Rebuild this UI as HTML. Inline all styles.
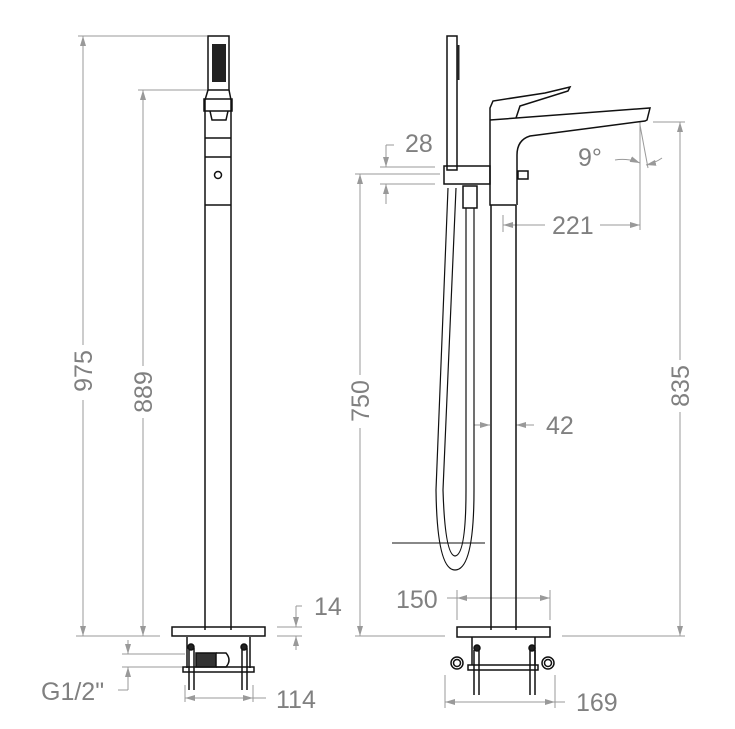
<!DOCTYPE html>
<html><head><meta charset="utf-8"><style>
html,body{margin:0;padding:0;background:#fff;}
svg{display:block;}
text{font-family:"Liberation Sans",sans-serif;font-size:25px;fill:#808080;}
</style></head><body>
<svg width="735" height="729" viewBox="0 0 735 729" xmlns="http://www.w3.org/2000/svg">
<defs>
<marker id="a" viewBox="0 0 10 6" refX="10" refY="3" markerWidth="10" markerHeight="6" orient="auto-start-reverse" markerUnits="userSpaceOnUse"><path d="M0,0 L10,3 L0,6 Z" fill="#999"/></marker>
</defs>
<g stroke="#999" stroke-width="1" fill="none">
<line x1="78" y1="36" x2="207" y2="36"/>
<line x1="138" y1="90" x2="207" y2="90"/>
<line x1="83" y1="36" x2="83" y2="345" marker-start="url(#a)"/>
<line x1="83" y1="400" x2="83" y2="636" marker-end="url(#a)"/>
<line x1="143" y1="90" x2="143" y2="366" marker-start="url(#a)"/>
<line x1="143" y1="418" x2="143" y2="636" marker-end="url(#a)"/>
<line x1="76" y1="636" x2="160" y2="636"/>
<line x1="122" y1="654" x2="185" y2="654"/>
<line x1="122" y1="667" x2="185" y2="667"/>
<line x1="128" y1="640" x2="128" y2="654" marker-end="url(#a)"/>
<line x1="128" y1="690" x2="128" y2="667" marker-end="url(#a)"/>
<line x1="118" y1="690" x2="128" y2="690"/>
<line x1="277" y1="627" x2="302" y2="627"/>
<line x1="277" y1="636" x2="302" y2="636"/>
<line x1="296" y1="606" x2="296" y2="627" marker-end="url(#a)"/>
<line x1="296" y1="650" x2="296" y2="636" marker-end="url(#a)"/>
<line x1="296" y1="606" x2="302" y2="606"/>
<line x1="185" y1="685" x2="185" y2="702"/>
<line x1="253" y1="685" x2="253" y2="702"/>
<line x1="185" y1="698" x2="253" y2="698" marker-start="url(#a)" marker-end="url(#a)"/>
<line x1="253" y1="698" x2="266" y2="698"/>
<line x1="380" y1="167" x2="435" y2="167"/>
<line x1="355" y1="174" x2="440" y2="174"/>
<line x1="380" y1="184" x2="435" y2="184"/>
<line x1="386" y1="145" x2="386" y2="167" marker-end="url(#a)"/>
<line x1="386" y1="204" x2="386" y2="184" marker-end="url(#a)"/>
<line x1="386" y1="145" x2="394" y2="145"/>
<line x1="360" y1="174" x2="360" y2="375" marker-start="url(#a)"/>
<line x1="360" y1="428" x2="360" y2="636" marker-end="url(#a)"/>
<line x1="355" y1="636" x2="445" y2="636"/>
<line x1="562" y1="636" x2="685" y2="636"/>
<line x1="653" y1="122" x2="685" y2="122"/>
<line x1="680" y1="122" x2="680" y2="360" marker-start="url(#a)"/>
<line x1="680" y1="412" x2="680" y2="636" marker-end="url(#a)"/>
<line x1="640" y1="122" x2="640" y2="230"/>
<line x1="503" y1="215" x2="503" y2="232"/>
<line x1="503" y1="225" x2="545" y2="225" marker-start="url(#a)"/>
<line x1="600" y1="225" x2="640" y2="225" marker-end="url(#a)"/>
<line x1="640" y1="125" x2="648" y2="168"/>
<path d="M615,160 Q628,158 640,163" marker-end="url(#a)"/>
<path d="M662,158 Q655,163 646,165" marker-end="url(#a)"/>
<line x1="474" y1="425" x2="490" y2="425" marker-end="url(#a)"/>
<line x1="534" y1="425" x2="516" y2="425" marker-end="url(#a)"/>
<line x1="457" y1="590" x2="457" y2="620"/>
<line x1="550" y1="590" x2="550" y2="620"/>
<line x1="447" y1="598" x2="550" y2="598"/>
<line x1="457" y1="598" x2="550" y2="598" marker-start="url(#a)" marker-end="url(#a)"/>
<line x1="445" y1="675" x2="445" y2="708"/>
<line x1="555" y1="675" x2="555" y2="708"/>
<line x1="445" y1="702" x2="555" y2="702" marker-start="url(#a)" marker-end="url(#a)"/>
<line x1="555" y1="702" x2="565" y2="702"/>
</g>
<g fill="none" stroke="#111" stroke-width="1.5">
<rect x="208" y="36" width="21" height="54"/>
<rect x="212" y="44" width="14" height="38" fill="#222" stroke="none"/>
<path d="M208,90 L205,100 L205,630 M229,90 L231,100 L231,630"/>
<rect x="204" y="99" width="28" height="12"/>
<path d="M210,111 L212,120 L226,120 L228,111"/>
<line x1="205" y1="138" x2="231" y2="138"/>
<line x1="205" y1="157" x2="231" y2="157"/>
<line x1="205" y1="205" x2="231" y2="205"/>
<circle cx="218" cy="175" r="3.5"/>
<rect x="172" y="627" width="93" height="9"/>
<path d="M187,637 L187,668 M250,637 L250,668"/>
<rect x="183" y="667" width="71" height="5"/>
<rect x="196" y="653" width="20" height="14" fill="#333"/>
<path d="M216,653 L226,653 Q232,660 226,667 L216,667"/>
<path d="M189,648 L189,690 M194,648 L194,690 M242,648 L242,690 M247,648 L247,690"/>
<circle cx="191" cy="647" r="3" fill="#222"/>
<circle cx="244" cy="647" r="3" fill="#222"/>
<rect x="447" y="36" width="10" height="134"/>
<rect x="457" y="45" width="2.5" height="35" fill="#222" stroke="none"/>
<rect x="444" y="166" width="46" height="18"/>
<rect x="463" y="186" width="14" height="22"/>
<path d="M448,188 L436,490 Q437,570 455,570 Q474,570 474,490 L474,208" stroke-width="1.2"/>
<path d="M456,188 L443,490 Q445,555 455,556 Q466,555 466,490 L466,208" stroke-width="1.2"/>
<path d="M490,120 L490,205 L516,205 M491,205 L491,630 M516,205 L516,630"/>
<path d="M490,120 L650,108 L647,120 L645,121 L530,136 Q517,140 517,155 L517,205"/>
<path d="M490,120 L490,108 L493,101 L545,93 L570,87 L568,91 L520,106 L516,118"/>
<rect x="518" y="171" width="10" height="8"/>
<rect x="457" y="627" width="93" height="10"/>
<path d="M472,637 L472,665 M535,637 L535,665"/>
<rect x="468" y="665" width="70" height="5"/>
<circle cx="457" cy="663" r="6"/><circle cx="457" cy="663" r="3.5"/>
<circle cx="548" cy="663" r="6"/><circle cx="548" cy="663" r="3.5"/>
<path d="M474,650 L474,695 M479,650 L479,695 M530,650 L530,695 M535,650 L535,695"/>
<circle cx="477" cy="648" r="3" fill="#222"/>
<circle cx="532" cy="648" r="3" fill="#222"/>
<line x1="392" y1="543" x2="485" y2="543" stroke-width="1"/>
</g>
<text transform="translate(92,371) rotate(-90)" text-anchor="middle">975</text>
<text transform="translate(152,392) rotate(-90)" text-anchor="middle">889</text>
<text x="41" y="700">G1/2"</text>
<text x="314" y="615">14</text>
<text x="276" y="708">114</text>
<text x="405" y="152">28</text>
<text transform="translate(369,401) rotate(-90)" text-anchor="middle">750</text>
<text x="578" y="166">9°</text>
<text x="552" y="234">221</text>
<text transform="translate(689,386) rotate(-90)" text-anchor="middle">835</text>
<text x="546" y="434">42</text>
<text x="396" y="608">150</text>
<text x="576" y="711">169</text>
</svg>
</body></html>
